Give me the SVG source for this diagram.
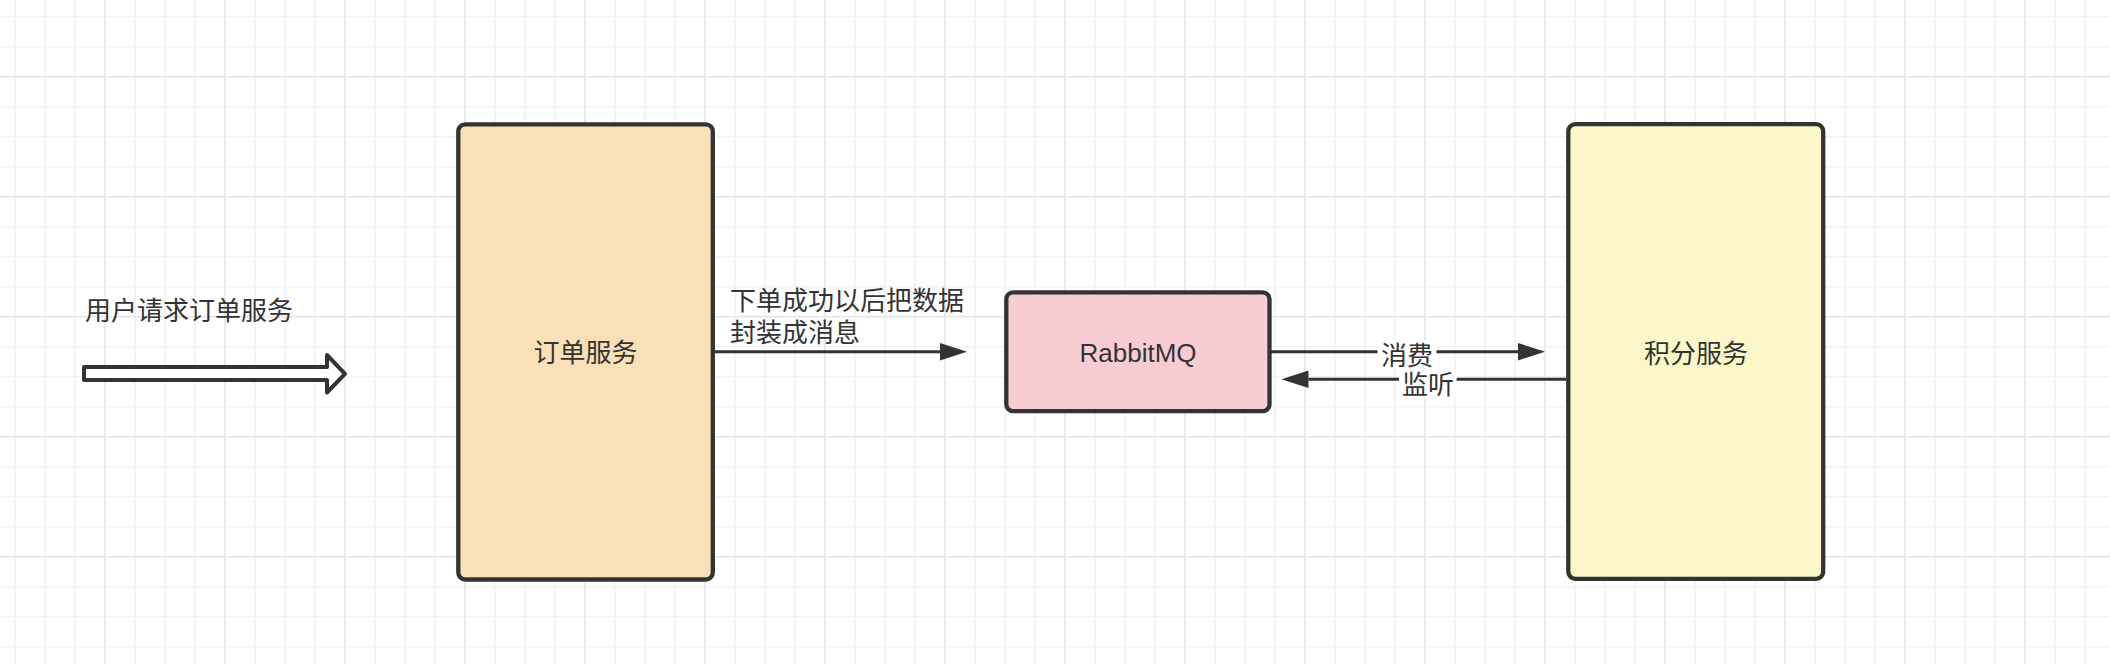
<svg xmlns="http://www.w3.org/2000/svg" width="2110" height="664" viewBox="0 0 2110 664">
  <defs>
    <pattern id="gridMinor" width="30" height="30" patternUnits="userSpaceOnUse">
      <path d="M15 0 V30 M0 16.7 H30" stroke="#f2f2f2" stroke-width="1.6" fill="none"/>
    </pattern>
    <pattern id="gridMajor" width="120" height="120" patternUnits="userSpaceOnUse">
      <path d="M105 0 V120 M0 76.7 H120" stroke="#e9e9e9" stroke-width="1.8" fill="none"/>
    </pattern>
    <marker id="arrow" markerUnits="userSpaceOnUse" markerWidth="28" markerHeight="18" refX="0" refY="8.7" orient="auto">
      <path d="M0 0 L27 8.7 L0 17.4 Z" fill="#333333"/>
    </marker>
  </defs>
  <style>
    .node { stroke: #333333; stroke-width: 4.3; }
    .edge { stroke: #333333; stroke-width: 3; fill: none; }
    .label { font-family: "Liberation Sans", "Noto Sans CJK SC", sans-serif; font-size: 26px; fill: #333333; }
    .mid { text-anchor: middle; }
    .lbg { fill: #ffffff; }
  </style>

  <rect width="2110" height="664" fill="#ffffff"/>
  <rect width="2110" height="664" fill="url(#gridMinor)"/>
  <rect width="2110" height="664" fill="url(#gridMajor)"/>

  <g id="user-request">
    <polygon points="84,367 327,367 327,355 345,373.8 327,392.5 327,380 84,380" fill="#ffffff" stroke="#333333" stroke-width="4" stroke-linejoin="round"/>
    <text class="label" x="85" y="319.5">用户请求订单服务</text>
  </g>

  <g id="order-service">
    <rect class="node" x="458.3" y="124.3" width="254.5" height="455.2" rx="7" fill="#f9e0b7"/>
    <text class="label mid" x="585.5" y="362">订单服务</text>
  </g>

  <g id="rabbitmq">
    <rect class="node" x="1006.3" y="292.3" width="263.2" height="118.9" rx="7" fill="#f7cdd3"/>
    <text class="label mid" x="1138" y="362">RabbitMQ</text>
  </g>

  <g id="points-service">
    <rect class="node" x="1568.3" y="124.2" width="254.9" height="454.6" rx="7" fill="#fcf7c9"/>
    <text class="label mid" x="1696" y="363">积分服务</text>
  </g>

  <g id="connectors">
    <path class="edge" d="M712.8 351.7 H940" marker-end="url(#arrow)"/>
    <text class="label" x="730" y="309.6">下单成功以后把数据</text>
    <text class="label" x="730" y="341.6">封装成消息</text>

    <path class="edge" d="M1269.5 351.7 H1518" marker-end="url(#arrow)"/>
    <rect class="lbg" x="1377.5" y="340" width="59" height="28"/>
    <text class="label mid" x="1407" y="365.4">消费</text>

    <path class="edge" d="M1566 379.3 H1308.5" marker-end="url(#arrow)"/>
    <rect class="lbg" x="1399" y="370" width="57.6" height="28"/>
    <text class="label mid" x="1428" y="394">监听</text>
  </g>
</svg>
